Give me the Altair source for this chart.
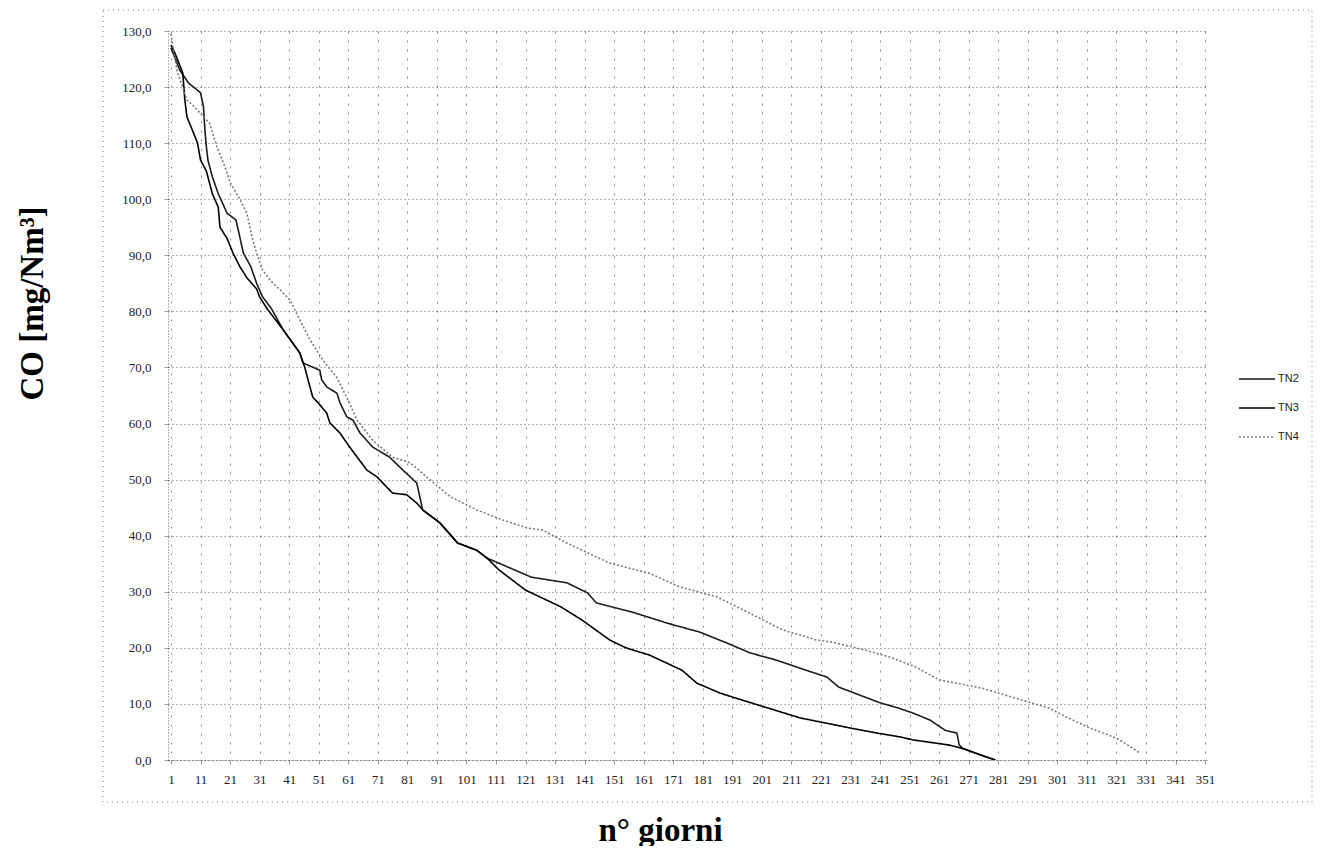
import altair as alt
import pandas as pd

# ---- data (day, CO mg/Nm3) ----
tn2_days = [1, 4, 7, 11, 12, 12.5, 13, 13.5, 15, 17, 20, 23, 24, 25.5, 28, 30, 32, 35, 39, 44.6,
            45.7, 51.4, 52, 53.8, 57.2, 58.2, 60.5, 62.6, 65, 69.3, 75, 79.5, 84.2, 85.2, 86.2,
            92, 98, 104.5, 108, 112, 123, 135, 142, 145, 157, 169, 180, 189, 197, 206, 216, 223,
            227, 237, 241, 247, 252, 258, 263, 267, 267.8, 268.8, 275, 280]
tn2_vals = [127, 123, 120.7, 119, 116.5, 112.3, 109.3, 107, 104, 101, 97.5, 96.3, 94, 90.4, 88, 85,
            82.6, 80.5, 76.7, 72.6, 70.8, 69.5, 67.8, 66.5, 65.4, 63.7, 61.2, 60.6, 58.3, 55.8,
            54, 51.7, 49.4, 47, 44.6, 42.3, 38.7, 37.4, 36, 35.1, 32.6, 31.6, 29.8, 28, 26.4, 24.4,
            22.8, 20.9, 19.1, 17.8, 16, 14.8, 13, 11, 10.2, 9.3, 8.4, 7.1, 5.3, 4.8, 2.7, 2.1, 0.9, 0]

tn3_days = [1, 2.4, 5, 5.7, 6.4, 8.5, 10, 11, 13, 15, 17, 17.6, 20, 22, 24.3, 26.7, 30, 31, 33.5,
            39, 44.6, 46.3, 47.4, 49, 50.8, 53.7, 54.8, 58.2, 61.5, 67.3, 70.7, 76, 80.8, 84.2,
            86.2, 92, 98, 104.5, 108, 112, 121, 133, 140, 149.5, 155, 163, 174, 179, 187, 193,
            214, 231, 240, 248, 252, 264, 268.8, 275, 280]
tn3_vals = [127.5, 126, 122.5, 117.7, 114.7, 112, 110, 107, 105, 101, 98.6, 95, 93, 90.4, 88, 86,
            84, 82.6, 80.5, 76.7, 72.6, 70, 67.8, 64.7, 63.7, 61.9, 60.1, 58.3, 55.8, 51.7, 50.5,
            47.6, 47.3, 45.8, 44.6, 42.3, 38.7, 37.4, 36, 33.9, 30.3, 27.3, 25, 21.4, 20, 18.7,
            16, 13.7, 11.9, 10.9, 7.5, 5.7, 4.8, 4.1, 3.6, 2.7, 2.1, 0.9, 0]

tn4_days = [1, 3, 6.4, 9.8, 14, 16.6, 19.3, 21, 24.3, 26.7, 28.7, 30, 32, 34.5, 39, 41.3, 44.6, 48,
            52.4, 57, 60.5, 64, 69.3, 76, 82, 88.6, 95.4, 104.5, 113.3, 121.4, 126.8, 135, 149.5,
            163, 173, 185.7, 196.8, 208, 219.5, 225, 236, 244, 253, 261, 275.6, 287, 298, 304,
            312, 321, 326, 329]
tn4_vals = [129.5, 123, 117.7, 116, 113.6, 109.3, 105.7, 103, 100, 97.5, 92.7, 90.4, 87.4, 85.6,
            83.3, 82, 78.5, 75, 71.3, 68.3, 64.7, 60.6, 57, 54, 53, 50, 47, 44.6, 42.8, 41.4, 41,
            38.7, 35.1, 33.3, 30.9, 29.1, 26.2, 23.2, 21.4, 21, 19.6, 18.4, 16.6, 14.3, 12.8, 11,
            9.3, 7.7, 5.7, 3.9, 2.3, 1.2]

series_names = ["TN2", "TN3", "TN4"]
x_ticks = list(range(1, 352, 10))
y_ticks = list(range(0, 131, 10))

rows = []
for name, ds, vs in [("TN2", tn2_days, tn2_vals), ("TN3", tn3_days, tn3_vals), ("TN4", tn4_days, tn4_vals)]:
    for i, (d, v) in enumerate(zip(ds, vs)):
        rows.append({"serie": name, "giorno": d, "CO": v, "ordine": i})
df = pd.DataFrame(rows)

serif = "Liberation Serif"

lines = alt.Chart(df).mark_line(interpolate="linear", clip=True).encode(
    x=alt.X("giorno:Q",
            scale=alt.Scale(domain=[0, 352], nice=False, zero=False),
            axis=alt.Axis(values=x_ticks, title="n° giorni", labelOverlap=False, labelFlush=False,
                          grid=True, gridDash=[2, 7], gridColor="#000", gridOpacity=0.45,
                          titleX=492, titleY=80, titleAlign="center", titleBaseline="alphabetic",
                          labelPadding=9, tickSize=4, tickColor="#000", tickOpacity=0.4)),
    y=alt.Y("CO:Q",
            scale=alt.Scale(domain=[0, 130], nice=False),
            axis=alt.Axis(values=y_ticks, title="CO [mg/Nm³]",
                          labelExpr="replace(format(datum.value, '.1f'), '.', ',')",
                          grid=True, gridDash=[1, 3], gridColor="#000", gridOpacity=0.6,
                          titleX=-126, titleY=272, titleAngle=270, titleAlign="center",
                          titleBaseline="alphabetic", labelPadding=13, tickSize=4,
                          tickColor="#000", tickOpacity=0.4)),
    color=alt.Color("serie:N", scale=alt.Scale(domain=series_names,
                                               range=["#1c1c1c", "#000000", "#7a7a7a"]),
                    legend=alt.Legend(title=None)),
    strokeDash=alt.StrokeDash("serie:N", scale=alt.Scale(domain=series_names,
                                                         range=[[1, 0], [1, 0], [2, 2]]),
                              legend=alt.Legend(title=None)),
    strokeWidth=alt.StrokeWidth("serie:N", scale=alt.Scale(domain=series_names,
                                                           range=[1.6, 1.6, 1.1]),
                                legend=None),
    order="ordine:Q",
)

frame = alt.Chart(pd.DataFrame({"k": [0]})).mark_rect(
    filled=False, stroke="#000", strokeDash=[1, 4], strokeWidth=1, opacity=0.5
).encode(x=alt.value(-65), x2=alt.value(1144), y=alt.value(-21), y2=alt.value(771))

chart = alt.layer(frame, lines).properties(
    width=1040, height=729,
    autosize=alt.AutoSizeParams(type="none"),
    padding={"left": 160, "top": 23, "right": 105, "bottom": 86},
).configure_view(stroke=None).configure_axis(
    labelFont=serif, labelFontSize=13, labelColor="#222",
    titleFont=serif, titleFontSize=33, titleFontWeight="bold", titleColor="#000",
    domainColor="#000", domainDash=[1, 2], domainOpacity=0.6,
).configure_legend(
    orient="none", legendX=1070, legendY=340, symbolType="stroke", symbolSize=1300,
    symbolStrokeWidth=1.5, labelFont="Liberation Sans", labelFontSize=11, labelColor="#222",
    clipHeight=16, rowPadding=13, labelOffset=2,
)

chart.save("out.html", embed_options={"renderer": "svg", "actions": False})
